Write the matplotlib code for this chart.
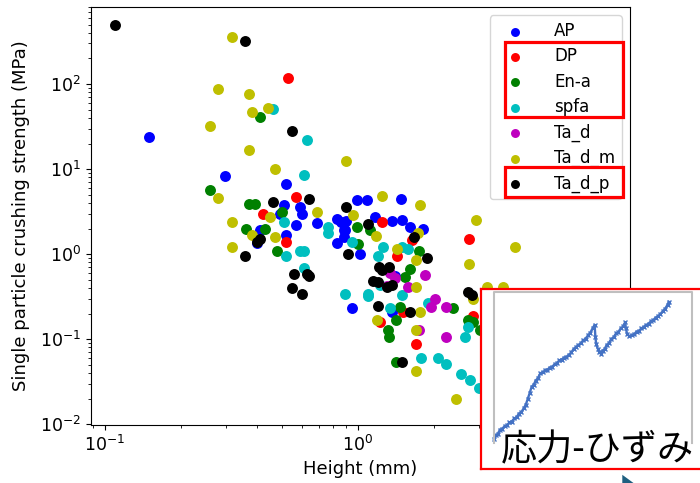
import numpy as np
import matplotlib
matplotlib.use('Agg')
import matplotlib.pyplot as plt
from matplotlib.patches import Rectangle, Polygon

# ------------------------------------------------------------
# Scatter data: particle height (mm) vs crushing strength (MPa)
# ------------------------------------------------------------
labels = ['AP', 'DP', 'En-a', 'spfa', 'Ta_d', 'Ta_d_m', 'Ta_d_p']
colors = ['b', 'r', 'g', 'c', 'm', 'y', 'k']

ap_h = [0.149, 0.298, 0.52, 0.51, 0.59, 0.60, 0.57, 0.69, 0.83, 0.86, 0.88, 0.83,
        0.40, 0.52, 0.41, 0.49, 0.99, 1.09, 1.48, 1.17, 1.36, 1.49, 1.60, 1.80,
        0.90, 0.89, 0.88, 1.02, 0.95, 1.36, 1.40]
ap_s = [23.8, 8.3, 6.7, 3.8, 3.6, 3.0, 2.2, 2.3, 2.6, 2.4, 1.9, 1.35,
        1.35, 1.67, 1.9, 2.95, 4.3, 4.3, 4.4, 2.7, 2.45, 2.5, 2.1, 2.0,
        2.45, 1.9, 1.6, 1.0, 0.23, 0.21, 0.55]

dp_h = [0.53, 0.57, 0.42, 0.52, 1.24, 2.74, 1.43, 1.63, 1.69, 1.22, 2.85, 1.50]
dp_s = [118, 4.7, 2.95, 1.38, 2.4, 1.5, 0.95, 1.46, 0.087, 0.16, 0.19, 0.21]

ena_h = [0.41, 0.26, 0.37, 0.39, 0.50, 0.36, 0.43, 0.48, 0.99, 1.00, 1.74, 1.60,
         1.53, 1.12, 1.46, 1.41, 1.31, 1.33, 1.42, 2.37, 2.72, 2.85, 3.03]
ena_s = [41, 5.7, 3.9, 3.9, 3.1, 1.97, 2.0, 1.08, 2.1, 1.3, 1.08, 0.67,
         0.54, 1.9, 0.238, 0.17, 0.13, 0.106, 0.054, 0.23, 0.17, 0.16, 0.13]

spfa_h = [0.46, 0.63, 0.61, 0.51, 0.76, 0.76, 0.52, 0.59, 0.61, 0.61, 0.89, 0.95,
          1.26, 1.20, 1.49, 1.58, 1.10, 1.22, 1.10, 1.34, 1.49, 1.90, 1.77, 2.07,
          2.23, 2.55, 2.77, 3.00, 2.65, 2.72]
spfa_s = [51, 22, 8.6, 2.4, 2.1, 1.77, 0.95, 1.08, 1.08, 0.68, 0.34, 1.4,
          1.2, 0.95, 1.2, 1.15, 0.34, 0.43, 0.32, 0.23, 0.33, 0.27, 0.060, 0.060,
          0.051, 0.039, 0.033, 0.027, 0.106, 0.138]

tad_h = [1.34, 1.58, 1.84, 2.02, 1.94, 2.23, 1.74, 2.23, 1.30, 1.40]
tad_s = [0.60, 0.41, 0.57, 0.30, 0.24, 0.24, 0.128, 0.106, 0.42, 0.52]

tadm_h = [0.317, 0.28, 0.37, 0.38, 0.44, 0.26, 0.37, 0.47, 0.90, 0.28, 0.317, 0.38,
          0.45, 0.47, 0.69, 0.317, 0.96, 1.24, 1.76, 1.18, 1.73, 1.43, 1.69, 2.93,
          2.74, 4.17, 1.69, 3.24, 3.74, 2.85, 1.19, 1.69, 1.69, 2.44, 1.76]
tadm_s = [356, 87, 76, 47, 53, 32, 16.7, 10, 12.4, 4.6, 2.4, 1.67,
          2.7, 1.6, 3.1, 1.2, 2.9, 4.8, 3.8, 1.63, 1.77, 1.15, 0.85, 2.5,
          0.76, 1.2, 0.41, 0.41, 0.41, 0.30, 0.17, 0.128, 0.042, 0.020, 0.208]

tadp_h = [0.109, 0.357, 0.548, 0.64, 0.46, 0.90, 0.357, 0.56, 0.548, 0.60, 0.63, 0.64,
          0.41, 0.91, 1.10, 1.66, 1.87, 1.21, 1.33, 1.25, 1.15, 1.20, 1.30, 1.36,
          2.72, 2.82, 1.20, 1.60, 1.49, 0.40]
tadp_s = [494, 321, 28, 4.4, 4.1, 3.6, 0.95, 0.58, 0.40, 0.34, 0.58, 0.56,
          1.5, 1.0, 2.25, 1.58, 0.90, 0.70, 0.70, 0.66, 0.48, 0.47, 0.41, 0.43,
          0.36, 0.33, 0.244, 0.208, 0.054, 1.4]

heights = [ap_h, dp_h, ena_h, spfa_h, tad_h, tadm_h, tadp_h]
strengths = [ap_s, dp_s, ena_s, spfa_s, tad_s, tadm_s, tadp_s]

# inset: stress-strain curve (normalised)
strain = [0.000, 0.010, 0.020, 0.030, 0.042, 0.054, 0.066, 0.078, 0.090, 0.102,
          0.114, 0.126, 0.138, 0.150, 0.160, 0.170, 0.180, 0.190, 0.200, 0.210,
          0.222, 0.234, 0.246, 0.258, 0.270, 0.282, 0.294, 0.306, 0.318, 0.330,
          0.342, 0.354, 0.366, 0.378, 0.390, 0.402, 0.414, 0.426, 0.438, 0.450,
          0.462, 0.474, 0.486, 0.498, 0.508,
          0.512, 0.516, 0.524, 0.532, 0.540, 0.548, 0.558, 0.568, 0.580, 0.592,
          0.604, 0.616, 0.628, 0.640, 0.652, 0.662,
          0.666, 0.672, 0.684, 0.696, 0.708, 0.720, 0.732, 0.744, 0.756, 0.768,
          0.780, 0.792, 0.804, 0.816, 0.828, 0.840, 0.852, 0.864, 0.876, 0.882]
stress = [0.026, 0.050, 0.062, 0.088, 0.095, 0.112, 0.118, 0.136, 0.142, 0.163,
          0.170, 0.195, 0.204, 0.230, 0.252, 0.290, 0.330, 0.372, 0.385, 0.412,
          0.430, 0.462, 0.468, 0.482, 0.486, 0.500, 0.505, 0.522, 0.530, 0.548,
          0.553, 0.566, 0.572, 0.584, 0.600, 0.622, 0.635, 0.650, 0.660, 0.680,
          0.690, 0.712, 0.730, 0.760, 0.782,
          0.700, 0.655, 0.625, 0.600, 0.590, 0.612, 0.620, 0.648, 0.660, 0.690,
          0.700, 0.726, 0.735, 0.760, 0.772, 0.800,
          0.760, 0.720, 0.708, 0.715, 0.722, 0.738, 0.742, 0.760, 0.768, 0.782,
          0.790, 0.806, 0.815, 0.830, 0.840, 0.855, 0.872, 0.890, 0.915, 0.935]

inset_title = '応力-ひずみ'

# ------------------------------------------------------------
# Main scatter
# ------------------------------------------------------------
fig = plt.figure(figsize=(7.0, 4.83), dpi=100)
ax = fig.add_axes([0.13, 0.12, 0.77, 0.8655])

for h, s, c, lab in zip(heights, strengths, colors, labels):
    ax.scatter(h, s, s=62, c=c, label=lab, linewidths=0)

ax.set_xscale('log')
ax.set_yscale('log')
ax.set_xlim(0.088, 11.9)
ax.set_ylim(0.0098, 805)
# the 10^1 label sits under the inset box anyway
ax.set_xticks([0.1, 1, 10])
ax.set_xticklabels([r'$\mathdefault{10^{-1}}$', r'$\mathdefault{10^{0}}$', ''])
ax.tick_params(labelsize=12.5)
ax.set_xlabel('Height (mm)', fontsize=13)
ax.set_ylabel('Single particle crushing strength (MPa)', fontsize=13, labelpad=7)
ax.legend(loc='upper right', fontsize=12, handletextpad=1.25, handlelength=2.2,
          labelspacing=0.44, markerscale=0.82)

# red highlight boxes on the legend
for (x0, y0, w, hgt) in [(0.7214, 0.7578, 0.1686, 0.1553),
                         (0.7214, 0.5921, 0.1686, 0.0621)]:
    fig.add_artist(Rectangle((x0, y0), w, hgt, transform=fig.transFigure,
                             fill=False, edgecolor='red', linewidth=2.3))

# ------------------------------------------------------------
# Inset thumbnail (single axes, red border, curve in 0..1 units)
# ------------------------------------------------------------
box = fig.add_axes([0.687, 0.029, 0.33, 0.373])
box.set_xticks([])
box.set_yticks([])
box.set_xlim(-0.066, 1.100)
box.set_ylim(-0.172, 1.021)
for sp in box.spines.values():
    sp.set_edgecolor('red')
    sp.set_linewidth(1.6)

box.plot(strain, stress, color='#4472C4', lw=1.7, marker='x', ms=3, mew=1.0)
# open frame (left, top, right) of the thumbnail
box.plot([0, 0, 1, 1], [0, 1, 1, 0], color='#bfbfbf', lw=1.5)

fig.text(0.716, 0.068, inset_title, fontsize=26, va='center', ha='left',
         family=['Noto Sans CJK JP', 'DejaVu Sans'], zorder=10)

# small mouse pointer under the inset
fig.add_artist(Polygon([[0.889, 0.017], [0.889, -0.01], [0.905, 0.0]],
                       closed=True, transform=fig.transFigure,
                       facecolor='#1f5f80', edgecolor='none'))

plt.savefig('out.png', dpi=100)
